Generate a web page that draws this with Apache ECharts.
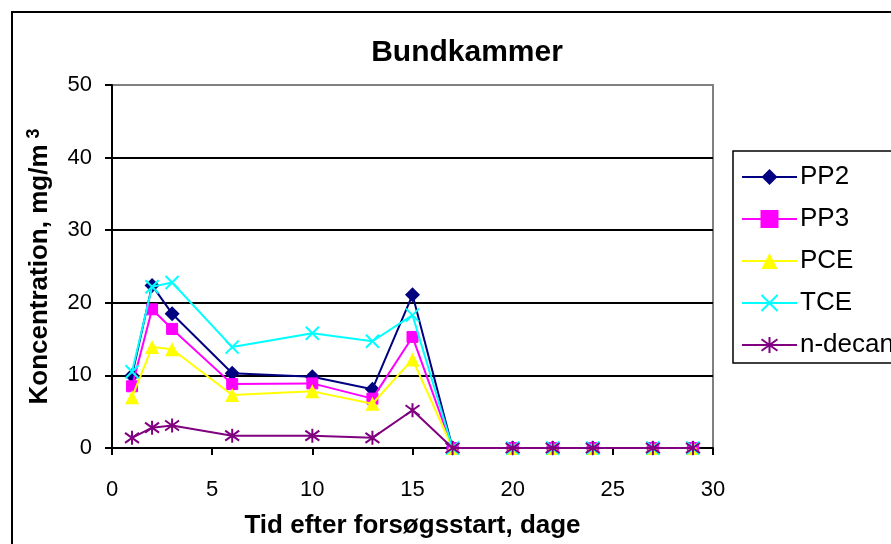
<!DOCTYPE html>
<html>
<head>
<meta charset="utf-8">
<script src="https://cdn.jsdelivr.net/npm/echarts@6/dist/echarts.min.js"></script>
<style>html,body{margin:0;padding:0;background:#fff;}#c{width:891px;height:544px;}</style>
</head>
<body>
<div id="c"></div>
<script>
const days = [1, 2, 3, 6, 10, 13, 15, 17, 20, 22, 24, 27, 29];
const pp2 = [10.0, 22.4, 18.5, 10.3, 9.8, 8.1, 21.1, 0, 0, 0, 0, 0, 0];
const pp3 = [8.5, 19.1, 16.4, 8.8, 8.9, 6.8, 15.3, 0, 0, 0, 0, 0, 0];
const pce = [7.0, 13.9, 13.6, 7.3, 7.8, 6.1, 12.2, 0, 0, 0, 0, 0, 0];
const tce = [10.5, 22.2, 22.8, 13.9, 15.8, 14.7, 18.3, 0, 0, 0, 0, 0, 0];
const ndecane = [1.4, 2.8, 3.1, 1.7, 1.7, 1.4, 5.2, 0, 0, 0, 0, 0, 0];
const seriesNames = ['PP2', 'PP3', 'PCE', 'TCE', 'n-decane'];
const xTicks = [0, 5, 10, 15, 20, 25, 30];
const yTicks = [0, 10, 20, 30, 40, 50];

const FONT = 'Liberation Sans, Arial, sans-serif';
function pairs(vals) { return days.map((d, i) => [d, vals[i]]); }

const styles = [
  {color: '#000080', symbol: 'diamond', size: 15, fill: '#000080', bw: 0},
  {color: '#FF00FF', symbol: 'rect', size: 11, fill: '#FF00FF', bw: 1},
  {color: '#FFFF00', symbol: 'triangle', size: 14, fill: '#FFFF00', bw: 0},
  {color: '#00FFFF', symbol: 'path://M0,0L10,10M10,0L0,10', size: 13, fill: 'none', bw: 2},
  {color: '#800080', symbol: 'path://M0,0L10,10M10,0L0,10M5,-2L5,12', size: 14, fill: 'none', bw: 2}
];
const dataSets = [pp2, pp3, pce, tce, ndecane];

const chart = echarts.init(document.getElementById('c'), null, {renderer: 'canvas'});
chart.setOption({
  animation: false,
  backgroundColor: '#fff',
  textStyle: {fontFamily: FONT},
  title: {
    text: 'Bundkammer', left: 462, top: 33, textAlign: 'center',
    textStyle: {fontFamily: FONT, fontSize: 30, fontWeight: 'bold', color: '#000'}
  },
  graphic: [{
    type: 'rect', shape: {x: 12, y: 12, width: 900, height: 560},
    style: {fill: 'none', stroke: '#000', lineWidth: 2}, z: -1
  }],
  legend: {
    orient: 'vertical', left: 733, top: 151,
    padding: [13, 40, 5, 8],
    itemGap: 16, itemWidth: 55, itemHeight: 20,
    borderColor: '#000', borderWidth: 1.5, backgroundColor: '#fff',
    textStyle: {fontFamily: FONT, fontSize: 26, color: '#000', padding: [0, 0, 0, -2]},
    data: seriesNames
  },
  grid: {
    left: 112, right: 178, top: 85, bottom: 96,
    show: true, borderColor: '#808080', borderWidth: 2, backgroundColor: '#fff'
  },
  xAxis: {
    type: 'value', min: xTicks[0], max: xTicks[xTicks.length - 1], interval: 5,
    name: 'Tid efter forsøgsstart, dage', nameLocation: 'middle', nameGap: 65,
    nameTextStyle: {fontFamily: FONT, fontSize: 26, fontWeight: 'bold', color: '#000'},
    axisLine: {lineStyle: {color: '#000', width: 2}},
    axisTick: {show: true, inside: false, length: 7, lineStyle: {color: '#000', width: 2}},
    axisLabel: {fontFamily: FONT, fontSize: 22, color: '#000', margin: 31},
    splitLine: {show: false}
  },
  yAxis: {
    type: 'value', min: yTicks[0], max: yTicks[yTicks.length - 1], interval: 10,
    name: 'Koncentration, mg/m{sup|3}', nameLocation: 'middle', nameGap: 57,
    nameTextStyle: {
      fontFamily: FONT, fontSize: 26, fontWeight: 'bold', color: '#000',
      rich: {sup: {fontFamily: FONT, fontSize: 18, fontWeight: 'bold', verticalAlign: 'top', padding: [0, 0, 12, 6]}}
    },
    axisLine: {show: true, lineStyle: {color: '#000', width: 2}},
    axisTick: {show: true, inside: false, length: 7, lineStyle: {color: '#000', width: 2}},
    axisLabel: {fontFamily: FONT, fontSize: 22, color: '#000', margin: 20},
    splitLine: {show: true, lineStyle: {color: ['#000', '#000', '#000', '#000', '#000', '#808080'], width: 2}}
  },
  series: seriesNames.map((n, i) => ({
    name: n, type: 'line', data: pairs(dataSets[i]),
    symbol: styles[i].symbol, symbolSize: styles[i].size,
    lineStyle: {color: styles[i].color, width: 2},
    itemStyle: {color: styles[i].fill === 'none' ? 'rgba(0,0,0,0)' : styles[i].fill,
                borderColor: styles[i].color, borderWidth: styles[i].bw},
    z: 2 + i
  }))
});
</script>
</body>
</html>
